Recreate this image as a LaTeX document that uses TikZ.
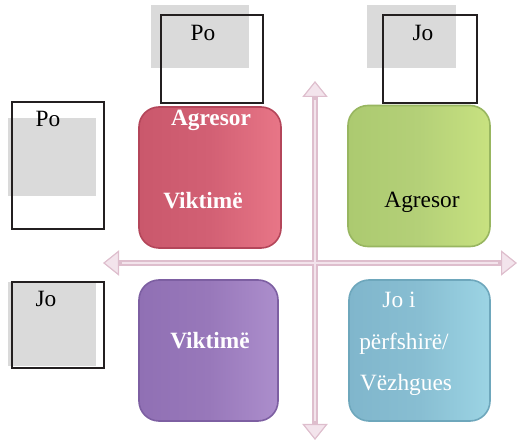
\documentclass[tikz,border=0pt]{standalone}
\usepackage{fontspec}
\setmainfont{Liberation Serif}
\usetikzlibrary{arrows.meta}
\definecolor{hdrgray}{RGB}{218,218,218}
\definecolor{frameblack}{RGB}{35,31,32}
\definecolor{axisdark}{RGB}{222,190,205}
\definecolor{axislight}{RGB}{243,228,236}
\tikzset{
  graybox/.style={fill=hdrgray, draw=none, inner sep=0pt},
  frame/.style={draw=frameblack, line width=2.2pt, inner sep=0pt},
  tile/.style={rounded corners=15pt, inner sep=0pt, line width=1.2pt},
  lbl/.style={font=\fontsize{17.5}{20}\selectfont, inner sep=0pt},
  boldlbl/.style={lbl, white, font=\fontsize{17.5}{20}\selectfont\bfseries},
  axis/.style={line width=4.5pt, draw=axisdark,
    {Triangle[length=12pt,width=19pt,line width=0.9pt,fill=axislight]}-{Triangle[length=12pt,width=19pt,line width=0.9pt,fill=axislight]}}
}
\begin{document}
\begin{tikzpicture}[x=0.75pt,y=0.75pt,yscale=-1,xscale=1]
    \useasboundingbox (0,0) rectangle (519,442);

    %Axes
    \coordinate (west) at (103,263);
    \coordinate (east) at (517,263);
    \coordinate (north) at (315,81);
    \coordinate (south) at (315,440);
    \draw [axis] (west) -- (east);
    \draw [axis] (north) -- (south);
    \draw [line width=1.8pt, axislight, shorten <=14pt, shorten >=14pt] (west) -- (east);
    \draw [line width=1.8pt, axislight, shorten <=14pt, shorten >=14pt] (north) -- (south);

    %Header: columns
    \node [graybox, minimum width=73.5pt, minimum height=47.25pt] (colpo gray) at (200,36.5) {};
    \node [frame, minimum width=76.5pt, minimum height=66pt] (colpo frame) at (212,59) {};
    \node [lbl] (colpo) at (203,33) {Po};
    \node [graybox, minimum width=66.75pt, minimum height=47.25pt] (coljo gray) at (411.5,36.5) {};
    \node [frame, minimum width=70.5pt, minimum height=66pt] (coljo frame) at (430,59) {};
    \node [lbl] (coljo) at (423,33) {Jo};

    %Header: rows
    \node [graybox, minimum width=66pt, minimum height=58.5pt] (rowpo gray) at (52,157) {};
    \node [frame, minimum width=69pt, minimum height=95.25pt] (rowpo frame) at (58,165.5) {};
    \node [lbl] (rowpo) at (48,119) {Po};
    \node [graybox, minimum width=66pt, minimum height=63pt] (rowjo gray) at (52,324) {};
    \node [frame, minimum width=69pt, minimum height=64.5pt] (rowjo frame) at (58,325) {};
    \node [lbl] (rowjo) at (46,299) {Jo};

    %Tiles
    \node [tile, draw={rgb,255:red,180;green,70;blue,90}, left color={rgb,255:red,202;green,88;blue,108}, right color={rgb,255:red,232;green,118;blue,135}, middle color={rgb,255:red,210;green,96;blue,116}, minimum width=106.5pt, minimum height=105.75pt] (tile red) at (210,177.5) {};
    \node [tile, draw={rgb,255:red,152;green,182;blue,96}, left color={rgb,255:red,172;green,202;blue,112}, right color={rgb,255:red,200;green,226;blue,128}, middle color={rgb,255:red,180;green,208;blue,120}, minimum width=106.5pt, minimum height=105.75pt] (tile green) at (419,176) {};
    \node [tile, draw={rgb,255:red,125;green,95;blue,162}, left color={rgb,255:red,144;green,112;blue,180}, right color={rgb,255:red,172;green,142;blue,204}, middle color={rgb,255:red,152;green,120;blue,186}, minimum width=104.25pt, minimum height=105.75pt] (tile purple) at (208.5,350.5) {};
    \node [tile, draw={rgb,255:red,110;green,167;blue,188}, left color={rgb,255:red,128;green,182;blue,204}, right color={rgb,255:red,156;green,212;blue,228}, middle color={rgb,255:red,136;green,190;blue,210}, minimum width=105.75pt, minimum height=105.75pt] (tile blue) at (419.5,350.5) {};

    %Tile labels
    \node [boldlbl] (red top) at (211,120) {Agresor};
    \node [boldlbl] (red bottom) at (203,201) {Viktimë};
    \node [lbl, black] (green label) at (422,202) {Agresor};
    \node [boldlbl] (purple label) at (210,341) {Viktimë};
    \node [lbl, white] (blue one) at (399,300) {Jo i};
    \node [lbl, white] (blue two) at (404,344) {përfshirë/};
    \node [lbl, white] (blue three) at (406,385) {Vëzhgues};
\end{tikzpicture}
\end{document}
